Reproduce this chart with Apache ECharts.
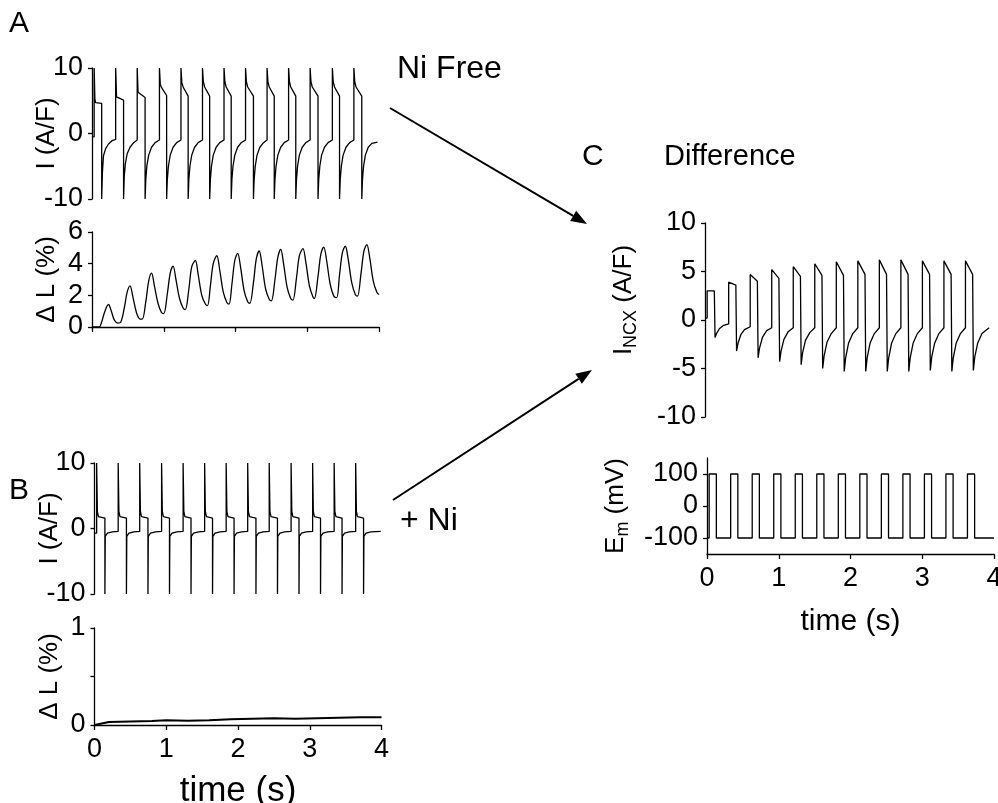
<!DOCTYPE html>
<html>
<head>
<meta charset="utf-8">
<script src="https://cdn.jsdelivr.net/npm/echarts@6/dist/echarts.min.js"></script>
<style>
html,body{margin:0;padding:0;background:#fff;}
#chart{width:998px;height:803px;}
</style>
</head>
<body>
<div id="chart"></div>
<script>
// ---------- DATA ----------
// time axis ticks (s)
const timeTicks = [0, 1, 2, 3, 4];

// Panel A: membrane current, Ni-free (A/F) [t, I]
const iNiFree = [
 [0,-0.5],[0.03,-0.5],[0.03,10],[0.04,5.3],[0.05,4.7],[0.135,4.6],[0.135,-10],
 [0.145,-6],[0.16,-3.4],[0.19,-2.3],[0.23,-1.6],[0.28,-1.1],[0.33,-0.9],
 [0.33,10],[0.342,5.6],[0.44,5.1],[0.44,-10],
 [0.45,-6.5],[0.465,-4.6],[0.49,-3.1],[0.53,-2.1],[0.58,-1.4],[0.63,-1.0],
 [0.63,10],[0.642,6.3],[0.74,5.5],[0.74,-10],
 [0.75,-7],[0.765,-4.9],[0.79,-3.3],[0.83,-2.1],[0.88,-1.4],[0.94,-1.0],
 [0.94,10],[0.952,7.5],[0.97,7.0],[1.04,5.8],[1.04,-10],
 [1.05,-7],[1.065,-5.0],[1.09,-3.3],[1.13,-2.1],[1.18,-1.4],[1.24,-1.0],
 [1.24,10],[1.252,7.8],[1.27,7.1],[1.34,5.7],[1.34,-10],
 [1.35,-7],[1.365,-5.0],[1.39,-3.3],[1.43,-2.1],[1.48,-1.4],[1.54,-1.0],
 [1.54,10],[1.552,7.9],[1.57,7.1],[1.64,5.7],[1.64,-10],
 [1.65,-7],[1.665,-5.0],[1.69,-3.3],[1.73,-2.1],[1.78,-1.4],[1.84,-1.0],
 [1.84,10],[1.852,7.9],[1.87,7.1],[1.94,5.7],[1.94,-10],
 [1.95,-7],[1.965,-5.0],[1.99,-3.3],[2.03,-2.1],[2.08,-1.4],[2.14,-1.0],
 [2.14,10],[2.152,7.9],[2.17,7.1],[2.25,5.7],[2.25,-10],
 [2.26,-7],[2.275,-5.0],[2.3,-3.3],[2.34,-2.1],[2.39,-1.4],[2.44,-1.0],
 [2.44,10],[2.452,7.9],[2.47,7.1],[2.54,5.7],[2.54,-10],
 [2.55,-7],[2.565,-5.0],[2.59,-3.3],[2.63,-2.1],[2.68,-1.4],[2.74,-1.0],
 [2.74,10],[2.752,7.9],[2.77,7.1],[2.84,5.7],[2.84,-10],
 [2.85,-7],[2.865,-5.0],[2.89,-3.3],[2.93,-2.1],[2.98,-1.4],[3.04,-1.0],
 [3.04,10],[3.052,7.9],[3.07,7.1],[3.15,5.7],[3.15,-10],
 [3.16,-7],[3.175,-5.0],[3.2,-3.3],[3.24,-2.1],[3.29,-1.4],[3.35,-1.0],
 [3.35,10],[3.362,7.9],[3.38,7.1],[3.45,5.7],[3.45,-10],
 [3.46,-7],[3.475,-5.0],[3.5,-3.3],[3.54,-2.1],[3.59,-1.4],[3.65,-1.0],
 [3.65,10],[3.662,7.9],[3.68,7.1],[3.76,5.7],[3.76,-10],
 [3.77,-7],[3.785,-5.0],[3.81,-3.3],[3.85,-2.1],[3.9,-1.5],[3.98,-1.3]
];

// Panel A: cell shortening, Ni-free (%) [t, dL]
const dLNiFree = [
 [0,0],[0.1,0],[0.13,0.25],[0.18,1.0],[0.23,1.42],[0.27,1.0],[0.31,0.45],[0.36,0.25],[0.4,0.3],
 [0.45,1.2],[0.49,2.2],[0.53,2.6],[0.57,1.9],[0.62,0.9],[0.67,0.5],[0.7,0.5],
 [0.75,1.6],[0.79,2.9],[0.83,3.4],[0.87,2.6],[0.92,1.5],[0.97,0.9],[1.0,0.85],
 [1.05,2.1],[1.09,3.4],[1.13,3.85],[1.17,3.0],[1.22,1.8],[1.27,1.2],[1.3,1.1],
 [1.35,2.4],[1.39,3.8],[1.44,4.2],[1.48,3.3],[1.53,2.0],[1.58,1.45],[1.61,1.35],
 [1.65,2.6],[1.69,4.0],[1.74,4.5],[1.78,3.6],[1.83,2.2],[1.88,1.55],[1.91,1.45],
 [1.95,2.7],[1.99,4.2],[2.03,4.65],[2.07,3.8],[2.12,2.3],[2.17,1.6],[2.2,1.5],
 [2.25,2.8],[2.29,4.3],[2.33,4.8],[2.37,3.9],[2.42,2.4],[2.47,1.75],[2.5,1.65],
 [2.55,3.0],[2.59,4.4],[2.63,4.9],[2.67,4.0],[2.72,2.5],[2.77,1.8],[2.8,1.7],
 [2.85,3.1],[2.89,4.5],[2.94,4.95],[2.98,4.1],[3.03,2.6],[3.08,1.9],[3.1,1.8],
 [3.15,3.2],[3.19,4.6],[3.23,5.05],[3.27,4.2],[3.32,2.7],[3.37,1.95],[3.41,1.85],
 [3.45,3.3],[3.49,4.7],[3.53,5.1],[3.57,4.3],[3.62,2.8],[3.67,2.05],[3.7,1.95],
 [3.75,3.4],[3.79,4.8],[3.83,5.2],[3.87,4.4],[3.92,2.9],[3.97,2.2],[4.0,2.05]
];

// Panel B: membrane current with Ni (A/F) [t, I]
const iNi = [
 [0,-0.7],[0.03,-0.7],[0.03,10],[0.04,2.6],[0.055,1.8],[0.145,1.6],[0.145,-10],
 [0.15,-1.2],[0.18,-0.7],[0.25,-0.5],[0.33,-0.45],
 [0.33,10],[0.34,2.6],[0.355,1.8],[0.445,1.6],[0.445,-10],
 [0.45,-1.2],[0.48,-0.7],[0.55,-0.5],[0.63,-0.45],
 [0.63,10],[0.64,2.6],[0.655,1.8],[0.745,1.6],[0.745,-10],
 [0.75,-1.2],[0.78,-0.7],[0.85,-0.5],[0.935,-0.45],
 [0.935,10],[0.945,2.6],[0.96,1.8],[1.045,1.6],[1.045,-10],
 [1.05,-1.2],[1.08,-0.7],[1.15,-0.5],[1.235,-0.45],
 [1.235,10],[1.245,2.6],[1.26,1.8],[1.345,1.6],[1.345,-10],
 [1.35,-1.2],[1.38,-0.7],[1.45,-0.5],[1.535,-0.45],
 [1.535,10],[1.545,2.6],[1.56,1.8],[1.645,1.6],[1.645,-10],
 [1.65,-1.2],[1.68,-0.7],[1.75,-0.5],[1.835,-0.45],
 [1.835,10],[1.845,2.6],[1.86,1.8],[1.945,1.6],[1.945,-10],
 [1.95,-1.2],[1.98,-0.7],[2.05,-0.5],[2.135,-0.45],
 [2.135,10],[2.145,2.6],[2.16,1.8],[2.25,1.6],[2.25,-10],
 [2.255,-1.2],[2.285,-0.7],[2.35,-0.5],[2.435,-0.45],
 [2.435,10],[2.445,2.6],[2.46,1.8],[2.55,1.6],[2.55,-10],
 [2.555,-1.2],[2.585,-0.7],[2.65,-0.5],[2.74,-0.45],
 [2.74,10],[2.75,2.6],[2.765,1.8],[2.85,1.6],[2.85,-10],
 [2.855,-1.2],[2.885,-0.7],[2.95,-0.5],[3.04,-0.45],
 [3.04,10],[3.05,2.6],[3.065,1.8],[3.15,1.6],[3.15,-10],
 [3.155,-1.2],[3.185,-0.7],[3.25,-0.5],[3.34,-0.45],
 [3.34,10],[3.35,2.6],[3.365,1.8],[3.45,1.6],[3.45,-10],
 [3.455,-1.2],[3.485,-0.7],[3.55,-0.5],[3.64,-0.45],
 [3.64,10],[3.65,2.6],[3.665,1.8],[3.75,1.6],[3.75,-10],
 [3.755,-1.2],[3.785,-0.7],[3.85,-0.5],[3.99,-0.45]
];

// Panel B: cell shortening with Ni (%) [t, dL]
const dLNi = [
 [0,0],[0.02,0.02],[0.2,0.03],[0.5,0.035],[0.8,0.04],[1.0,0.05],[1.3,0.045],[1.6,0.05],
 [1.9,0.06],[2.2,0.065],[2.5,0.07],[2.8,0.065],[3.1,0.07],[3.4,0.075],[3.7,0.08],[4.0,0.08]
];

// Panel C: difference current I_NCX (A/F) [t, I]
const iNCX = [
 [0,0.2],[0.03,0.2],[0.03,3.0],[0.13,3.0],[0.14,-1.8],[0.16,-1.4],[0.2,-0.9],[0.26,-0.55],[0.33,-0.4],
 [0.33,3.9],[0.43,3.6],[0.44,-3.2],[0.46,-2.4],[0.5,-1.5],[0.55,-1.0],[0.63,-0.7],
 [0.63,4.7],[0.73,4.0],[0.74,-3.9],[0.76,-2.9],[0.8,-1.8],[0.86,-1.1],[0.93,-0.8],
 [0.93,5.2],[1.03,4.3],[1.04,-4.3],[1.06,-3.2],[1.1,-2.0],[1.16,-1.2],[1.23,-0.8],
 [1.23,5.5],[1.33,4.5],[1.34,-4.6],[1.36,-3.4],[1.4,-2.1],[1.46,-1.3],[1.53,-0.8],
 [1.53,5.8],[1.63,4.6],[1.64,-5.0],[1.66,-3.7],[1.7,-2.3],[1.76,-1.4],[1.83,-0.8],
 [1.83,6.0],[1.93,4.6],[1.94,-5.3],[1.96,-3.9],[2.0,-2.4],[2.06,-1.4],[2.13,-0.8],
 [2.13,6.1],[2.23,4.7],[2.24,-5.3],[2.26,-3.9],[2.3,-2.4],[2.36,-1.4],[2.43,-0.8],
 [2.43,6.2],[2.53,4.7],[2.54,-5.3],[2.56,-3.9],[2.6,-2.4],[2.66,-1.4],[2.73,-0.8],
 [2.73,6.2],[2.83,4.7],[2.84,-5.3],[2.86,-3.9],[2.9,-2.4],[2.96,-1.4],[3.03,-0.8],
 [3.03,6.1],[3.13,4.7],[3.14,-5.2],[3.16,-3.8],[3.2,-2.4],[3.26,-1.4],[3.33,-0.8],
 [3.33,6.1],[3.43,4.7],[3.44,-5.3],[3.46,-3.9],[3.5,-2.4],[3.56,-1.4],[3.63,-0.8],
 [3.63,6.1],[3.73,4.7],[3.74,-5.2],[3.76,-3.8],[3.8,-2.4],[3.86,-1.4],[3.96,-0.8]
];

// Panel C: membrane potential E_m (mV) [t, V]
const eM = [
 [0,-100],[0.03,-100],[0.03,100],[0.13,100],[0.13,-100],
 [0.33,-100],[0.33,100],[0.43,100],[0.43,-100],
 [0.63,-100],[0.63,100],[0.73,100],[0.73,-100],
 [0.93,-100],[0.93,100],[1.03,100],[1.03,-100],
 [1.23,-100],[1.23,100],[1.33,100],[1.33,-100],
 [1.53,-100],[1.53,100],[1.63,100],[1.63,-100],
 [1.83,-100],[1.83,100],[1.93,100],[1.93,-100],
 [2.13,-100],[2.13,100],[2.23,100],[2.23,-100],
 [2.43,-100],[2.43,100],[2.53,100],[2.53,-100],
 [2.73,-100],[2.73,100],[2.83,100],[2.83,-100],
 [3.03,-100],[3.03,100],[3.13,100],[3.13,-100],
 [3.33,-100],[3.33,100],[3.43,100],[3.43,-100],
 [3.63,-100],[3.63,100],[3.73,100],[3.73,-100],
 [4.0,-100]
];

// y tick labels
const yTicksI = [-10, 0, 10];
const yTicksDLFree = [0, 2, 4, 6];
const yTicksDLNi = [0, 1];
const yTicksNCX = [-10, -5, 0, 5, 10];
const yTicksEm = [-100, 0, 100];

// ---------- CHART ----------
const FONT = '"Liberation Sans", Arial, sans-serif';
const BLACK = '#000';
const TICK_FS = 27;
const NAME_FS = 26;

const chart = echarts.init(document.getElementById('chart'), null, {renderer: 'canvas'});

function grid(left, top, width, height) {
  return {left, top, width, height, containLabel: false, outerBoundsMode: 'none', show: false};
}
const grids = [
  grid(92, 68, 287, 131),    // 0 A current
  grid(92, 232, 287, 95),    // 1 A dL
  grid(94.5, 463, 287, 131), // 2 B current
  grid(94.5, 628, 287, 97),  // 3 B dL
  grid(705, 223, 287, 194),  // 4 C current
  grid(707, 458, 287, 96)    // 5 C Em
];

const lineStyle = {color: BLACK, width: 1.3};
function xAx(gi, opts) {
  return Object.assign({
    type: 'value', gridIndex: gi, min: 0, max: 4, interval: 1,
    axisLine: {show: true, onZero: false, lineStyle},
    axisTick: {show: true, length: 5, lineStyle},
    axisLabel: {show: true, color: BLACK, fontSize: TICK_FS, fontFamily: FONT, margin: 11,
      customValues: timeTicks},
    splitLine: {show: false},
    nameMoveOverlap: false
  }, opts);
}
function yAx(gi, min, max, interval, ticks, name, opts) {
  return Object.assign({
    type: 'value', gridIndex: gi, min, max, interval,
    axisLine: {show: true, onZero: false, lineStyle},
    axisTick: {show: true, length: 4, lineStyle, customValues: ticks},
    axisLabel: {show: true, color: BLACK, fontSize: TICK_FS, fontFamily: FONT, margin: 9,
      customValues: ticks},
    splitLine: {show: false},
    name: name, nameLocation: 'middle', nameRotate: 90, nameGap: 32,
    nameMoveOverlap: false,
    nameTextStyle: {color: BLACK, fontSize: NAME_FS, fontFamily: FONT}
  }, opts || {});
}

const subRich = {
  n: {fontSize: NAME_FS, fontFamily: FONT, color: BLACK, lineHeight: 30, verticalAlign: 'top'},
  s: {fontSize: 18, fontFamily: FONT, color: BLACK, lineHeight: 40}
};

const option = {
  animation: false,
  backgroundColor: '#fff',
  grid: grids,
  xAxis: [
    xAx(0, {show: false}),
    xAx(1, {axisLabel: {show: false}}),
    xAx(2, {show: false}),
    xAx(3, {name: 'time (s)', nameLocation: 'middle', nameGap: 49,
      nameTextStyle: {color: BLACK, fontSize: 35, fontFamily: FONT}}),
    xAx(4, {show: false}),
    xAx(5, {name: 'time (s)', nameLocation: 'middle', nameGap: 53,
      nameTextStyle: {color: BLACK, fontSize: 30, fontFamily: FONT}})
  ],
  yAxis: [
    yAx(0, -10, 10, 10, yTicksI, 'I (A/F)'),
    yAx(1, 0, 6, 2, yTicksDLFree, '\u0394 L (%)'),
    yAx(2, -10, 10, 10, yTicksI, 'I (A/F)'),
    yAx(3, 0, 1, 0.5, [0, 0.5, 1], '\u0394 L (%)', {
      axisLabel: {show: true, color: BLACK, fontSize: TICK_FS, fontFamily: FONT, margin: 9,
        customValues: yTicksDLNi}}),
    yAx(4, -10, 10, 5, yTicksNCX, '{n|I}{s|NCX}{n| (A/F)}', {nameGap: 54,
      nameTextStyle: {color: BLACK, fontSize: NAME_FS, fontFamily: FONT, rich: subRich, padding: [0, 0, 0, 40]}}),
    yAx(5, -150, 150, 50, yTicksEm, '{n|E}{s|m}{n| (mV)}', {nameGap: 64,
      nameTextStyle: {color: BLACK, fontSize: NAME_FS, fontFamily: FONT, rich: subRich}})
  ],
  series: [
    {type: 'line', xAxisIndex: 0, yAxisIndex: 0, data: iNiFree},
    {type: 'line', xAxisIndex: 1, yAxisIndex: 1, data: dLNiFree, smooth: 0.35},
    {type: 'line', xAxisIndex: 2, yAxisIndex: 2, data: iNi},
    {type: 'line', xAxisIndex: 3, yAxisIndex: 3, data: dLNi, lineStyle: {color: BLACK, width: 2}},
    {type: 'line', xAxisIndex: 4, yAxisIndex: 4, data: iNCX},
    {type: 'line', xAxisIndex: 5, yAxisIndex: 5, data: eM}
  ].map(s => Object.assign({showSymbol: false, symbol: 'none', clip: true,
    lineStyle: {color: BLACK, width: 1.3}}, s)),
  graphic: [
    {type: 'text', x: 9, y: 9, style: {text: 'A', fontSize: 30, fontFamily: FONT, fill: BLACK}},
    {type: 'text', x: 9, y: 476, style: {text: 'B', fontSize: 30, fontFamily: FONT, fill: BLACK}},
    {type: 'text', x: 582, y: 142, style: {text: 'C', fontSize: 30, fontFamily: FONT, fill: BLACK}},
    {type: 'text', x: 664, y: 142, style: {text: 'Difference', fontSize: 29, fontFamily: FONT, fill: BLACK}},
    {type: 'text', x: 397, y: 53, style: {text: 'Ni Free', fontSize: 32, fontFamily: FONT, fill: BLACK}},
    {type: 'text', x: 400, y: 505, style: {text: '+ Ni', fontSize: 32, fontFamily: FONT, fill: BLACK}},
    {type: 'line', shape: {x1: 390, y1: 108, x2: 573.2, y2: 215.9}, style: {stroke: BLACK, lineWidth: 2}},
    {type: 'polygon', shape: {points: [[587, 224], [570.2, 221.1], [576.2, 210.7]]}, style: {fill: BLACK}},
    {type: 'line', shape: {x1: 393, y1: 500, x2: 578.6, y2: 378.8}, style: {stroke: BLACK, lineWidth: 2}},
    {type: 'polygon', shape: {points: [[592, 370], [581.9, 383.8], [575.3, 373.7]]}, style: {fill: BLACK}}
  ]
};
chart.setOption(option);
</script>
</body>
</html>
